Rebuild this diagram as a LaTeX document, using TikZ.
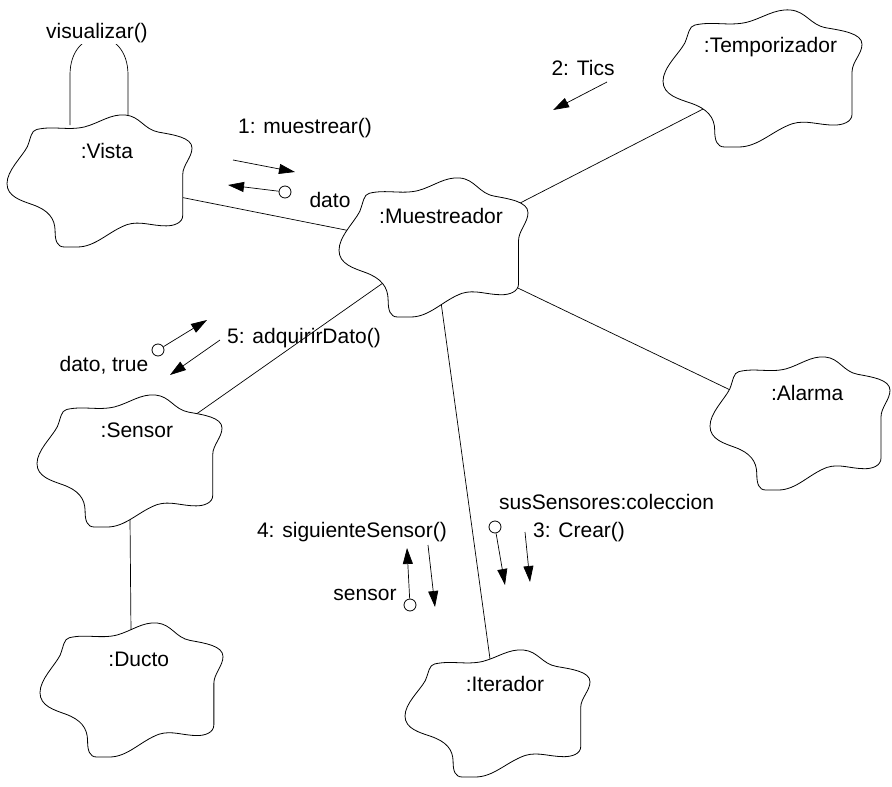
\documentclass[tikz,border=0pt]{standalone}
\usepackage{fontspec}
\setmainfont{Liberation Sans}
\usetikzlibrary{arrows.meta,calc}
\pgfdeclarelayer{links}
\pgfsetlayers{links,main}

\tikzset{
  cloudline/.style={draw=black, line width=0.8pt, fill=white},
  cloudbox/.style={rectangle, inner sep=0pt, outer sep=0pt},
  objname/.style={font=\fontsize{21}{25}\selectfont, inner sep=1pt},
  msgtext/.style={font=\fontsize{21}{25}\selectfont, inner sep=1pt},
  link/.style={draw=black, line width=0.7pt},
  msg/.style={draw=black, line width=0.7pt, -{Triangle[length=16pt,width=10pt]}},
  retcirc/.style={circle, draw=black, line width=0.8pt, fill=white, minimum size=12pt, inner sep=0pt},
  % Booch object cloud in a unit box (v grows downwards)
  cloudpic/.pic={
    \path[cloudline] (0.16,0.11) .. controls (0.25,0.08) and (0.33,0.12) .. (0.42,0.09)
      .. controls (0.50,0.06) and (0.56,-0.01) .. (0.64,0)
      .. controls (0.72,0.01) and (0.74,0.11) .. (0.82,0.13)
      .. controls (0.90,0.15) and (1.0,0.17) .. (1,0.25)
      .. controls (1.0,0.32) and (0.95,0.38) .. (0.95,0.45)
      -- (0.95,0.76)
      .. controls (0.95,0.82) and (0.90,0.84) .. (0.86,0.84)
      .. controls (0.78,0.84) and (0.72,0.80) .. (0.65,0.83)
      .. controls (0.55,0.88) and (0.48,1.0) .. (0.38,1.0)
      -- (0.31,1.0)
      .. controls (0.27,1.0) and (0.26,0.95) .. (0.26,0.88)
      .. controls (0.26,0.78) and (0.22,0.72) .. (0.14,0.68)
      .. controls (0.08,0.65) and (0.0,0.62) .. (0,0.52)
      .. controls (0,0.42) and (0.08,0.32) .. (0.11,0.24)
      .. controls (0.13,0.17) and (0.13,0.12) .. (0.16,0.11) -- cycle;
  }
}

% name, left, top, width, height, object name
\newcommand\cloudobj[6]{%
  \pic[xscale=#4, yscale=#5] at (#2,#3) {cloudpic};
  \node[cloudbox, minimum width=#4pt, minimum height=#5pt, anchor=north west] (#1) at (#2,#3) {};
  \node[objname] (#1-name) at ($(#1.north west)+(0.54*#4,0.27*#5)$) {#6};
}

\begin{document}
\begin{tikzpicture}[x=1pt,y=-1pt]
\useasboundingbox (0,0) rectangle (892,787);

% objects
\cloudobj{vista}{7}{115}{185}{132}{:Vista}
\cloudobj{muest}{339}{178}{189}{139}{:Muestreador}
\cloudobj{temp}{663}{10}{199}{137}{:Temporizador}
\cloudobj{alarma}{710}{357}{180}{133}{:Alarma}
\cloudobj{sensor}{37}{395}{185}{132}{:Sensor}
\cloudobj{ducto}{40}{623}{183}{134}{:Ducto}
\cloudobj{iter}{405}{650}{185}{127}{:Iterador}

% self link of :Vista
\node[msgtext, fill=white] (visu) at (97,33) {visualizar()};
\coordinate (loopL) at (70,125);
\coordinate (loopR) at (128,117);

% links between objects, drawn behind the clouds
\begin{pgfonlayer}{links}
  \draw[link] (vista.center) -- (muest.center);
  \draw[link] (muest.center) -- (temp.center);
  \draw[link] (muest.center) -- (alarma.center);
  \draw[link] (muest.center) -- (sensor.center);
  \draw[link] (muest.center) -- (iter.center);
  \draw[link] (sensor.center) -- (ducto.center);
  \draw[link] (loopL) -- (70,75) .. controls (70,25) and (128,25) .. (128,75) -- (loopR);
\end{pgfonlayer}

% 1: muestrear()
\node[msgtext] (l1) at (305,128) {1: muestrear()};
\coordinate (m1a) at (233,160);
\coordinate (m1b) at (295,172);
\draw[msg] (m1a) -- (m1b);
\node[retcirc] (r1) at (285,192) {};
\coordinate (r1b) at (228,185);
\draw[msg] (r1) -- (r1b);
\node[msgtext] (d1) at (330,200) {dato};

% 2: Tics
\node[msgtext] (l2) at (583,68) {2: Tics};
\coordinate (m2a) at (607,82);
\coordinate (m2b) at (553,110);
\draw[msg] (m2a) -- (m2b);

% 5: adquirirDato()
\node[msgtext, anchor=west] (l5) at (226,338) {5: adquirirDato()};
\coordinate (m5a) at (220,340);
\coordinate (m5b) at (170,375);
\draw[msg] (m5a) -- (m5b);
\node[retcirc] (r5) at (158,350) {};
\coordinate (r5b) at (207,320);
\draw[msg] (r5) -- (r5b);
\node[msgtext] (d5) at (104,365) {dato, true};

% 4: siguienteSensor()
\node[msgtext] (l4) at (352,532) {4: siguienteSensor()};
\node[retcirc] (r4) at (410,605) {};
\coordinate (r4b) at (407,548);
\draw[msg] (r4) -- (r4b);
\node[msgtext] (d4) at (365,595) {sensor};
\coordinate (m4a) at (428,545);
\coordinate (m4b) at (435,607);
\draw[msg] (m4a) -- (m4b);

% 3: Crear()
\node[msgtext, anchor=west] (d3) at (498,502) {susSensores:coleccion};
\node[retcirc] (r3) at (495,527) {};
\coordinate (r3b) at (505,585);
\draw[msg] (r3) -- (r3b);
\coordinate (m3a) at (525,532);
\coordinate (m3b) at (530,582);
\draw[msg] (m3a) -- (m3b);
\node[msgtext, anchor=west] (l3) at (532,532) {3: Crear()};

\end{tikzpicture}
\end{document}
